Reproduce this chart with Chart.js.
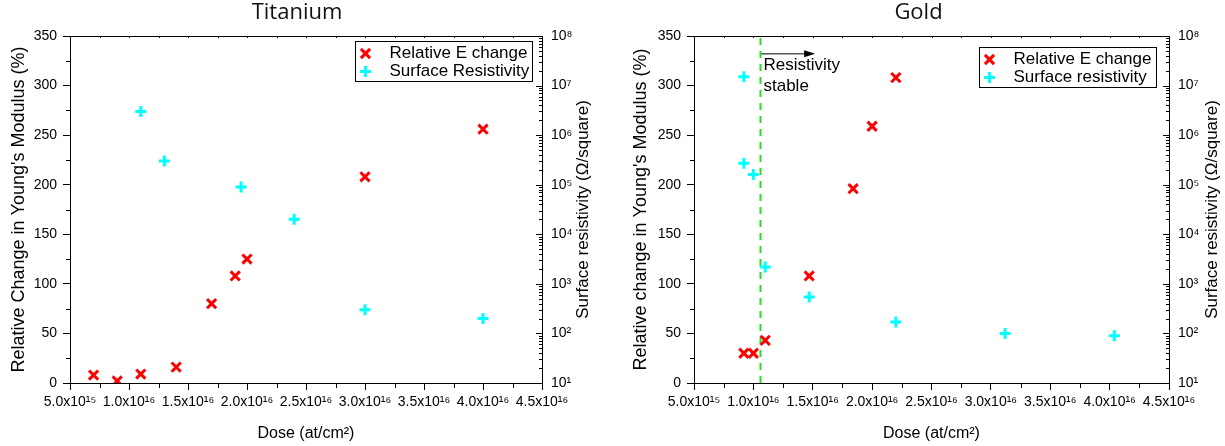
<!DOCTYPE html>
<html>
<head>
<meta charset="utf-8">
<script src="https://cdn.jsdelivr.net/npm/chart.js@4.4.1/dist/chart.umd.min.js"></script>
<style>
  html, body { margin: 0; padding: 0; background: #fff; }
  #wrap { position: relative; width: 1225px; height: 446px; }
  #ti { position: absolute; left: 0; top: 0; }
  #au { position: absolute; left: 612px; top: 0; }
</style>
</head>
<body>
<div id="wrap">
  <canvas id="ti" width="612" height="446"></canvas>
  <canvas id="au" width="613" height="446"></canvas>
</div>
<script>
// ---- data ----
// Titanium
var tiDoseE   = [0.7e16, 0.9e16, 1.1e16, 1.4e16, 1.7e16, 1.9e16, 2.0e16, 3.0e16, 4.0e16];
var tiChangeE = [8, 2, 9, 16, 80, 108, 125, 208, 256];
var tiDoseR   = [1.1e16, 1.3e16, 1.95e16, 2.4e16, 3.0e16, 4.0e16];
var tiResist  = [3.0e6, 3.0e5, 9.0e4, 2.0e4, 300, 200];

// Gold
var auDoseE   = [0.92e16, 1.0e16, 1.1e16, 1.47e16, 1.84e16, 2.0e16, 2.2e16];
var auChangeE = [30, 30, 43, 108, 196, 259, 308];
var auDoseR   = [0.92e16, 0.92e16, 1.0e16, 1.1e16, 1.47e16, 2.2e16, 3.12e16, 4.04e16];
var auResist  = [1.5e7, 2.7e5, 1.6e5, 2200, 540, 170, 100, 90];

// "Resistivity stable" marker on the gold plot
var stableDose   = 1.06e16;
var arrowEndDose = 1.52e16;
var arrowLevel   = 332;
var noteDose     = 1.085e16;
var noteLevel    = 316;
var noteLines    = ['Resistivity', 'stable'];

// ticks
var xTickLabels   = ['5.0x10¹⁵', '1.0x10¹⁶', '1.5x10¹⁶', '2.0x10¹⁶', '2.5x10¹⁶', '3.0x10¹⁶', '3.5x10¹⁶', '4.0x10¹⁶', '4.5x10¹⁶'];
var logTickValues = [1e1, 1e2, 1e3, 1e4, 1e5, 1e6, 1e7, 1e8];
var logTickLabels = ['10¹', '10²', '10³', '10⁴', '10⁵', '10⁶', '10⁷', '10⁸'];

var RED = '#ff0000';
var CYAN = '#00ffff';
var FONT = '"Liberation Sans", Arial, sans-serif';

Chart.defaults.font.family = FONT;
Chart.defaults.color = '#000';

function pairs(xs, ys) {
  return xs.map(function (x, i) { return { x: x, y: ys[i] }; });
}

// outline on top, minor ticks, ticks of the log axis (inward)
var frameTicks = {
  id: 'frameTicks',
  afterDraw: function (chart) {
    var ctx = chart.ctx, a = chart.chartArea;
    var sx = chart.scales.x, sy = chart.scales.y, sr = chart.scales.y2;
    ctx.save();
    ctx.strokeStyle = '#000';
    ctx.lineWidth = 1;
    ctx.beginPath();
    ctx.moveTo(a.left, Math.round(a.top) + 0.5);
    ctx.lineTo(a.right, Math.round(a.top) + 0.5);
    var v, p;
    for (v = 5e15; v <= 4.5e16 + 1; v += 2.5e15) {
      p = Math.round(sx.getPixelForValue(v)) + 0.5;
      ctx.moveTo(p, a.top);
      ctx.lineTo(p, a.top + 2);
      if (Math.round(v / 2.5e15) % 2 === 1) {
        ctx.moveTo(p, a.bottom);
        ctx.lineTo(p, a.bottom + 5);
      }
    }
    for (v = 25; v < 350; v += 50) {
      p = Math.round(sy.getPixelForValue(v)) + 0.5;
      ctx.moveTo(a.left, p);
      ctx.lineTo(a.left - 4, p);
    }
    for (var d = 10; d <= 1e8; d *= 10) {
      for (var m = 1; m <= 9; m++) {
        if (d === 1e8 && m > 1) break;
        p = Math.round(sr.getPixelForValue(m * d)) + 0.5;
        ctx.moveTo(a.right, p);
        ctx.lineTo(a.right - (m === 1 ? 6 : 3), p);
      }
    }
    ctx.stroke();
    ctx.restore();
  }
};

// right axis title, reading upwards like the left one
var rightTitle = {
  id: 'rightTitle',
  afterDraw: function (chart, args, o) {
    var ctx = chart.ctx, a = chart.chartArea;
    ctx.save();
    ctx.translate(o.x, (a.top + a.bottom) / 2 + o.dy);
    ctx.rotate(-Math.PI / 2);
    ctx.font = '17px ' + FONT;
    ctx.fillStyle = '#000';
    ctx.textAlign = 'center';
    ctx.textBaseline = 'middle';
    ctx.fillText(o.text, 0, 0);
    ctx.restore();
  }
};

// framed legend in the top right corner of the plot
var boxLegend = {
  id: 'boxLegend',
  afterDraw: function (chart, args, o) {
    var ctx = chart.ctx, a = chart.chartArea;
    var bx = Math.round(a.right - o.gapRight - o.width) + 0.5;
    var by = Math.round(a.top + o.gapTop) + 0.5;
    ctx.save();
    ctx.strokeStyle = '#000';
    ctx.lineWidth = 1;
    ctx.strokeRect(bx, by, o.width, o.height);
    ctx.font = '17px ' + FONT;
    ctx.textBaseline = 'middle';
    for (var i = 0; i < 2; i++) {
      var ds = chart.data.datasets[i];
      var cy = by + o.rows[i];
      ctx.strokeStyle = ds.borderColor;
      ctx.fillStyle = ds.borderColor;
      ctx.lineWidth = ds.borderWidth;
      Chart.helpers.drawPoint(ctx, {
        pointStyle: ds.pointStyle, radius: ds.pointRadius, rotation: 0, borderWidth: ds.borderWidth
      }, bx + o.markX, cy);
      ctx.fillStyle = '#000';
      ctx.fillText(ds.label, bx + o.textX, cy);
    }
    ctx.restore();
  }
};

// arrow head and text next to the dashed line
var stableNote = {
  id: 'stableNote',
  afterDatasetsDraw: function (chart) {
    var ctx = chart.ctx, sx = chart.scales.x, sy = chart.scales.y;
    var ex = sx.getPixelForValue(arrowEndDose), ey = sy.getPixelForValue(arrowLevel);
    ctx.save();
    ctx.fillStyle = '#000';
    ctx.beginPath();
    ctx.moveTo(ex, ey);
    ctx.lineTo(ex - 11, ey - 3.5);
    ctx.lineTo(ex - 11, ey + 3.5);
    ctx.closePath();
    ctx.fill();
    ctx.font = '17px ' + FONT;
    ctx.textBaseline = 'alphabetic';
    var tx = sx.getPixelForValue(noteDose), ty = sy.getPixelForValue(noteLevel);
    noteLines.forEach(function (t, i) { ctx.fillText(t, tx, ty + i * 21); });
    ctx.restore();
  }
};

function makeChart(id, cfg) {
  var datasets = [
    {
      label: 'Relative E change', data: pairs(cfg.doseE, cfg.changeE), yAxisID: 'y',
      pointStyle: 'crossRot', pointRadius: 6.5, pointHoverRadius: 6.5,
      borderColor: RED, backgroundColor: RED, borderWidth: 3, pointBorderWidth: 3
    },
    {
      label: cfg.resLabel, data: pairs(cfg.doseR, cfg.resist), yAxisID: 'y2',
      pointStyle: 'cross', pointRadius: 5.5, pointHoverRadius: 5.5,
      borderColor: CYAN, backgroundColor: CYAN, borderWidth: 3, pointBorderWidth: 3
    }
  ].concat(cfg.extra || []);

  var axisFont = { family: FONT, size: 14 };
  return new Chart(document.getElementById(id), {
    type: 'scatter',
    data: { datasets: datasets },
    plugins: [frameTicks, rightTitle, boxLegend].concat(cfg.plugins || []),
    options: {
      responsive: false,
      animation: false,
      events: [],
      layout: { padding: { left: 0, right: cfg.padRight, top: 0, bottom: 0 } },
      plugins: {
        legend: { display: false },
        tooltip: { enabled: false },
        title: {
          display: true, text: cfg.title, color: '#111',
          font: { family: '"Open Sans", sans-serif', size: 22, weight: 'normal' },
          padding: { top: 0, bottom: 9.6 }
        },
        rightTitle: { text: 'Surface resistivity (Ω/square)', x: cfg.rightTitleX, dy: 0 },
        boxLegend: { gapRight: cfg.legGapRight, gapTop: cfg.legGapTop, width: 177, height: 40, rows: [12, 30], markX: 10, textX: 34 }
      },
      scales: {
        x: {
          type: 'linear', position: 'bottom', min: 5e15, max: 4.5e16,
          ticks: {
            stepSize: 5e15, autoSkip: false, maxRotation: 0, padding: 4, font: axisFont, color: '#000',
            callback: function (v) { return xTickLabels[Math.round(v / 5e15) - 1]; }
          },
          grid: { drawOnChartArea: false, drawTicks: true, tickLength: 7, color: '#000' },
          border: { display: true, color: '#000', width: 1 },
          title: { display: true, text: 'Dose (at/cm²)', color: '#000', font: { family: FONT, size: 16 }, padding: { top: 0, bottom: 3 } },
          afterFit: function (s) { s.height = 63; }
        },
        y: {
          type: 'linear', position: 'left', min: 0, max: 350,
          ticks: { stepSize: 50, padding: 6, font: axisFont, color: '#000' },
          grid: { drawOnChartArea: false, drawTicks: true, tickLength: 7, color: '#000' },
          border: { display: true, color: '#000', width: 1 },
          title: { display: true, text: cfg.yTitle, color: '#000', font: { family: FONT, size: 18 }, padding: { top: cfg.yTitlePad, bottom: 0 } },
          afterFit: function (s) { s.width = cfg.leftW; }
        },
        y2: {
          type: 'logarithmic', position: 'right', min: 10, max: 1e8,
          afterBuildTicks: function (s) { s.ticks = logTickValues.map(function (v) { return { value: v }; }); },
          ticks: {
            padding: 9, font: axisFont, color: '#000', autoSkip: false,
            callback: function (v, i) { return logTickLabels[i]; }
          },
          grid: { drawOnChartArea: false, drawTicks: false },
          border: { display: true, color: '#000', width: 1 },
          afterFit: function (s) { s.width = cfg.rightW; }
        }
      }
    }
  });
}

makeChart('ti', {
  title: 'Titanium',
  doseE: tiDoseE, changeE: tiChangeE, doseR: tiDoseR, resist: tiResist,
  resLabel: 'Surface Resistivity',
  yTitle: "Relative Change in Young's Modulus (%)",
  padRight: 18, leftW: 70, rightW: 52, yTitlePad: 8, rightTitleX: 583,
  legGapRight: 10, legGapTop: 5
});

makeChart('au', {
  title: 'Gold',
  doseE: auDoseE, changeE: auChangeE, doseR: auDoseR, resist: auResist,
  resLabel: 'Surface resistivity',
  yTitle: "Relative change in Young's Modulus (%)",
  padRight: 0, leftW: 82, rightW: 56, yTitlePad: 18, rightTitleX: 600,
  legGapRight: 13, legGapTop: 11,
  plugins: [stableNote],
  extra: [
    {
      type: 'line', data: [{ x: stableDose, y: 0 }, { x: stableDose, y: 350 }], yAxisID: 'y',
      borderColor: '#22e022', borderWidth: 2, borderDash: [7, 6], pointRadius: 0, fill: false
    },
    {
      type: 'line', data: [{ x: stableDose, y: arrowLevel }, { x: arrowEndDose - 0.05e16, y: arrowLevel }], yAxisID: 'y',
      borderColor: '#000', borderWidth: 1, pointRadius: 0, fill: false
    }
  ]
});
</script>
</body>
</html>
